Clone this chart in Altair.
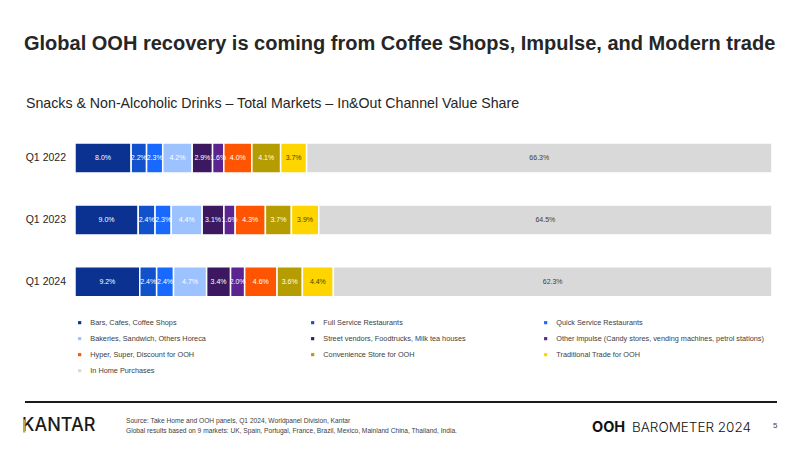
import altair as alt
import pandas as pd

F = "Liberation Sans"

periods = ["Q1 2022", "Q1 2023", "Q1 2024"]
channels = [
    "Bars, Cafes, Coffee Shops",
    "Full Service Restaurants",
    "Quick Service Restaurants",
    "Bakeries, Sandwich, Others Horeca",
    "Street vendors, Foodtrucks, Milk tea houses",
    "Other impulse (Candy stores, vending machines, petrol stations)",
    "Hyper, Super, Discount for OOH",
    "Convenience Store for OOH",
    "Traditional Trade for OOH",
    "In Home Purchases",
]
colors = ["#0B3290", "#1152CC", "#1769FF", "#9CC2FF", "#3B1860",
          "#5B2491", "#FF5500", "#B59C00", "#FFD500", "#D9D9D9"]
label_colors = ["#FFFFFF", "#FFFFFF", "#FFFFFF", "#FFFFFF", "#FFFFFF",
                "#FFFFFF", "#FFFFFF", "#FFFFFF", "#4A4000", "#404040"]

share_2022 = [8.0, 2.2, 2.3, 4.2, 2.9, 1.6, 4.0, 4.1, 3.7, 66.3]
share_2023 = [9.0, 2.4, 2.3, 4.4, 3.1, 1.6, 4.3, 3.7, 3.9, 64.5]
share_2024 = [9.2, 2.4, 2.4, 4.7, 3.4, 2.0, 4.6, 3.6, 4.4, 62.3]

rows = []
for i, (p, vals) in enumerate(zip(periods, [share_2022, share_2023, share_2024])):
    for j, (c, v) in enumerate(zip(channels, vals)):
        rows.append(dict(period=p, row=i, ch=c, idx=j, value=v,
                         label=f"{v:.1f}%", tc=label_colors[j]))
df = pd.DataFrame(rows)
dfp = pd.DataFrame({"period": periods, "row": list(range(len(periods)))})
one = pd.DataFrame({"k": [0]})

xs = alt.Scale(domain=[-0.0961, 1.0316], nice=False, zero=False)
ys = alt.Scale(domain=[4.530, -2.348], nice=False, zero=False)

base = alt.Chart(df).transform_stack(
    stack="value", groupby=["period"],
    sort=[alt.SortField("idx", order="ascending")],
    as_=["v0", "v1"], offset="normalize",
).transform_calculate(mid="(datum.v0 + datum.v1) / 2")

bars = base.mark_bar(size=30, stroke="white", strokeWidth=1.5).encode(
    x=alt.X("v0:Q", scale=xs, axis=None),
    x2="v1:Q",
    y=alt.Y("row:Q", scale=ys, axis=None),
    color=alt.Color(
        "ch:N",
        scale=alt.Scale(domain=channels, range=colors),
        legend=alt.Legend(
            title=None, orient="none", legendX=68, legendY=311, columns=3,
            direction="horizontal",
            symbolType="square", symbolSize=10, symbolStrokeWidth=0,
            labelFontSize=7.3, labelFont=F, labelColor="#404040",
            rowPadding=8, columnPadding=11, labelOffset=7, padding=0,
            gridAlign="all", labelLimit=400,
        ),
    ),
)

seg_labels = base.mark_text(fontSize=7, font=F).encode(
    x=alt.X("mid:Q", scale=xs, axis=None),
    y=alt.Y("row:Q", scale=ys, axis=None),
    text="label:N",
    color=alt.Color("tc:N", scale=None),
)

period_labels = alt.Chart(dfp).mark_text(
    align="right", baseline="middle", fontSize=10.5, font=F, color="#262626"
).encode(
    x=alt.value(58),
    y=alt.Y("row:Q", scale=ys, axis=None),
    text="period:N",
)


def txt(text, x, y, size, weight="normal", color="#262626", font=F, align="left"):
    return alt.Chart(one).mark_text(
        text=text, align=align, baseline="middle", fontSize=size,
        fontWeight=weight, font=font, color=color,
    ).encode(x=alt.value(x), y=alt.value(y))


title = txt("Global OOH recovery is coming from Coffee Shops, Impulse, and Modern trade",
            16, 36, 20, "bold")
subtitle = txt("Snacks & Non-Alcoholic Drinks \u2013 Total Markets \u2013 In&Out Channel Value Share",
               18, 96, 14.2)
rule = alt.Chart(one).mark_rule(color="#1a1a1a", strokeWidth=2).encode(
    x=alt.value(17), x2=alt.value(769), y=alt.value(394))
kantar = txt("KANTAR", 14, 418, 18, 500, "#1a1a1a", "Inter")
kantar_stem = alt.Chart(one).mark_rule(color="#C2A552", strokeWidth=2.4).encode(
    x=alt.value(16.2), y=alt.value(411.5), y2=alt.value(424.5))
src1 = txt("Source: Take Home and OOH panels, Q1 2024, Worldpanel Division, Kantar",
           118, 413, 6.65, "normal", "#404040")
src2 = txt("Global results based on 9 markets: UK, Spain, Portugal, France, Brazil, Mexico, Mainland China, Thailand, India.",
           118, 423, 6.65, "normal", "#404040")
ooh = txt("OOH", 584, 420, 14.5, "bold", "#111111", "Inter")
barometer = txt("BAROMETER 2024", 624, 420, 13.5, 300, "#111111", "Inter")
page = txt("5", 765, 418, 8, "normal", "#404040")

chart = alt.layer(
    bars, seg_labels, period_labels, title, subtitle, rule,
    kantar, kantar_stem, src1, src2, ooh, barometer, page,
).resolve_scale(color="independent").properties(
    width=786, height=435, padding=0,
    autosize=alt.AutoSizeParams(type="none"),
    background="white",
).configure_view(stroke=None)

chart.save("out.html", embed_options={"renderer": "svg", "actions": False})
